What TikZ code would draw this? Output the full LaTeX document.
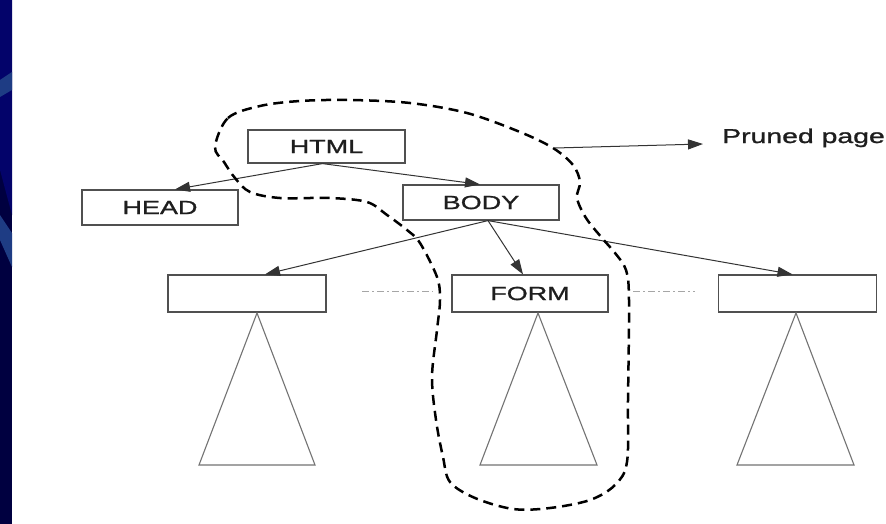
\documentclass[tikz,border=0pt]{standalone}
\usepackage{fontspec}
\setmainfont{Liberation Sans}
\newfontfamily\labfont[FakeStretch=1.42,FakeBold=1.2]{Liberation Sans}
\usetikzlibrary{arrows.meta}
\definecolor{navy}{HTML}{03036A}
\definecolor{navydark}{HTML}{000040}
\definecolor{bandblue}{HTML}{1E3C84}
\definecolor{boxgray}{HTML}{505050}
\definecolor{txt}{HTML}{1E1E1E}
\tikzset{
  treebox/.style={draw=boxgray, line width=1.2pt, minimum width=156pt, minimum height=35pt, inner sep=0pt, font=\labfont\fontsize{19}{19}\selectfont, text=txt},
  link/.style={draw=black!80, line width=1pt, -{Triangle[length=15pt,width=10pt]}},
  subtree/.style={draw=black!55, line width=1.1pt},
  sibling/.style={draw=black!35, line width=0.7pt, dash pattern=on 7pt off 3pt on 2pt off 3pt},
  prune/.style={draw=black, line width=2.5pt, dash pattern=on 10pt off 6pt},
  label/.style={font=\labfont\fontsize{20}{20}\selectfont, text=txt, inner sep=0pt}
}
\begin{document}
\begin{tikzpicture}[x=1pt,y=-1pt]
\useasboundingbox (0,0) rectangle (886,524);
\fill[white] (0,0) rectangle (886,524);
% left strip
\fill[navydark] (0,0) rectangle (12,524);
\fill[navy] (0,0) -- (12,0) -- (12,215) -- (0,170) -- cycle;
\fill[bandblue] (0,80) -- (12,72) -- (12,90) -- (0,97) -- cycle;
\fill[bandblue] (0,215) -- (12,233) -- (12,267) -- (0,240) -- cycle;

% boxes
\node[treebox, minimum width=157pt, minimum height=33pt] (html) at (326.5,146.5) {HTML};
\node[treebox] (head) at (160,207.5) {HEAD};
\node[treebox] (body) at (481,202.5) {BODY};
\node[treebox, minimum width=158pt, minimum height=37pt] (c1) at (247,293.5) {};
\node[treebox, minimum height=37pt] (form) at (530,293.5) {FORM};
\node[treebox, minimum width=158pt, minimum height=37pt] (c3) at (797.5,293.5) {};

% arrows
\draw[link] ([xshift=-4pt]html.south) -- ([xshift=15pt]head.north);
\draw[link] ([xshift=-4pt]html.south) -- ([xshift=-1pt]body.north);
\draw[link] ([xshift=7pt]body.south) -- ([xshift=18pt]c1.north);
\draw[link] ([xshift=7pt]body.south) -- ([xshift=-7pt]form.north);
\draw[link] ([xshift=7pt]body.south) -- ([xshift=-5pt]c3.north);

% sibling dash-dot lines
\coordinate (s1a) at (362,291);
\coordinate (s1b) at (433,291);
\coordinate (s2a) at (633,291);
\coordinate (s2b) at (695,291);
\draw[sibling] (s1a) -- (s1b);
\draw[sibling] (s2a) -- (s2b);

% subtrees
\coordinate (t1a) at (257,313); \coordinate (t1l) at (199,465); \coordinate (t1r) at (315,465);
\coordinate (t2a) at (538,313); \coordinate (t2l) at (480,465); \coordinate (t2r) at (597,465);
\coordinate (t3a) at (796,313); \coordinate (t3l) at (737,465); \coordinate (t3r) at (854,465);
\draw[subtree] (t1a) -- (t1l) -- (t1r) -- cycle;
\draw[subtree] (t2a) -- (t2l) -- (t2r) -- cycle;
\draw[subtree] (t3a) -- (t3l) -- (t3r) -- cycle;

% pruned region
\draw[prune] plot[smooth cycle, tension=0.55] coordinates {
 (215,147) (228,118) (260,106) (300,101) (350,100) (410,103) (467,113)
 (520,132) (553,148) (573,165) (580,182) (577,198) (586,218) (602,238)
 (615,253) (626,270) (629,300) (628,400) (627,462) (615,485) (590,500)
 (550,508) (513,509) (475,498) (450,482) (443,457) (436,420) (432,377)
 (437,330) (440,300) (437,277) (420,243) (407,230) (387,215) (367,202)
 (330,198) (280,198) (250,192) (235,178) (224,162)};

\coordinate (pa) at (555,148);
\coordinate (pb) at (703,144);
\draw[link] (pa) -- (pb);
\node[label, anchor=base west] (pl) at (722,143) {Pruned page};
\end{tikzpicture}
\end{document}
